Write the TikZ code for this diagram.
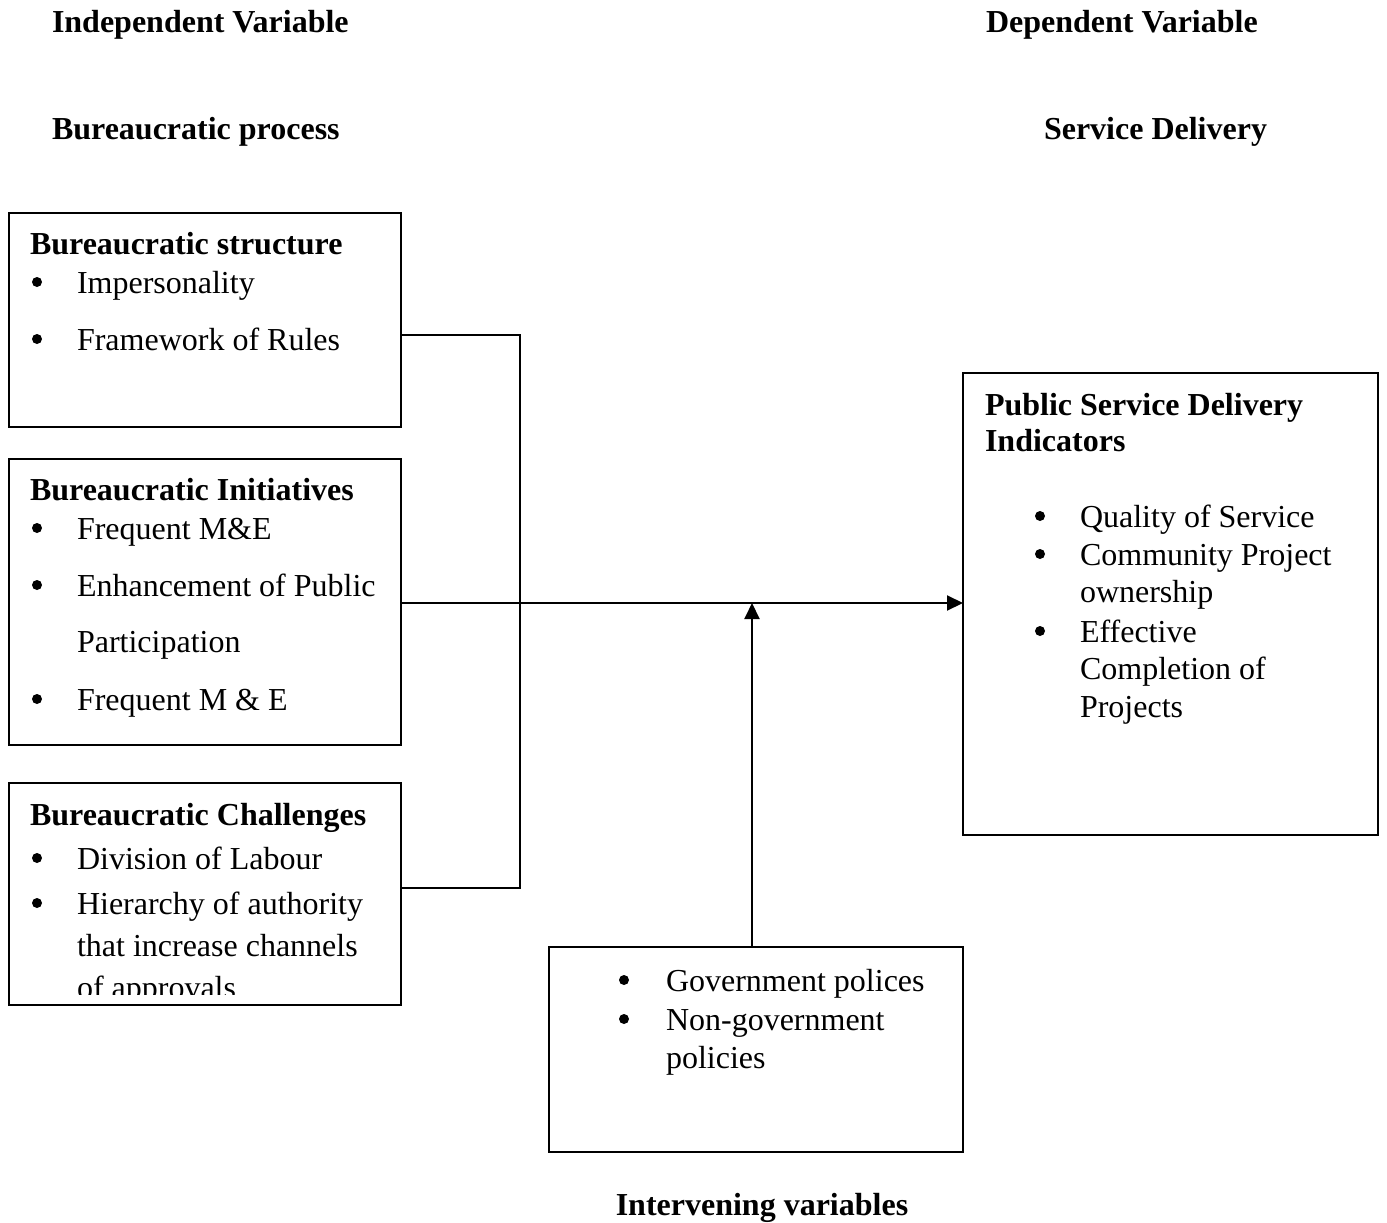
\documentclass[tikz,border=0pt]{standalone}
\usepackage{fontspec}
\setmainfont{Liberation Serif}
\usetikzlibrary{arrows.meta}
\begin{document}
\begin{tikzpicture}[x=1pt,y=-1pt,
  every node/.style={inner sep=0pt, outer sep=0pt},
  txt/.style={anchor=base west, font=\fontsize{32}{37.5}\selectfont},
  hd/.style={anchor=base west, font=\fontsize{32}{37.5}\selectfont\bfseries},
  bul/.style={circle, fill, minimum size=10pt, yshift=11pt},
  box/.style={draw, line width=2pt, rectangle},
  conn/.style={line width=2pt},
  arr/.style={line width=2pt, -{Triangle[length=16pt,width=15pt]}}]
\clip (0,0) rectangle (1387,1223);
\fill[white] (0,0) rectangle (1387,1223);

% headings
\node[hd] (iv) at (52,33) {Independent Variable};
\node[hd] (dv) at (986,33) {Dependent Variable};
\node[hd] (bp) at (52,139) {Bureaucratic process};
\node[hd] (sd) at (1044,139) {Service Delivery};
\node[hd, anchor=base] (intv) at (762,1215) {Intervening variables};

% boxes
\node[box, minimum width=392pt, minimum height=214pt] (b1) at (205,320) {};
\node[box, minimum width=392pt, minimum height=286pt] (b2) at (205,602) {};
\node[box, minimum width=392pt, minimum height=222pt] (b3) at (205,894) {};
\node[box, minimum width=415pt, minimum height=462pt] (b4) at (1170.5,604) {};
\node[box, minimum width=414pt, minimum height=205pt] (b5) at (756,1049.5) {};

% box 1
\node[hd] (t1) at (30,254) {Bureaucratic structure};
\node[bul] (b1a) at (37,293) {};
\node[txt] (t1a) at (77,293) {Impersonality};
\node[bul] (b1b) at (37,350) {};
\node[txt] (t1b) at (77,350) {Framework of Rules};

% box 2
\node[hd] (t2) at (30,500) {Bureaucratic Initiatives};
\node[bul] (b2a) at (37,539) {};
\node[txt] (t2a) at (77,539) {Frequent M\&E};
\node[bul] (b2b) at (37,596) {};
\node[txt] (t2b) at (77,596) {Enhancement of Public};
\node[txt] (t2c) at (77,652) {Participation};
\node[bul] (b2d) at (37,710) {};
\node[txt] (t2d) at (77,710) {Frequent M \& E};

% box 3 (text clipped at bottom)
\begin{scope}
\clip (10,784) rectangle (400,994);
\node[hd] (t3) at (30,825) {Bureaucratic Challenges};
\node[bul] (b3a) at (37,869) {};
\node[txt] (t3a) at (77,869) {Division of Labour};
\node[bul] (b3b) at (37,914) {};
\node[txt] (t3b) at (77,914) {Hierarchy of authority};
\node[txt] (t3c) at (77,956) {that increase channels};
\node[txt] (t3d) at (77,998) {of approvals};
\end{scope}

% box 4
\node[hd] (t4) at (985,415) {Public Service Delivery};
\node[hd] (t4b) at (985,451) {Indicators};
\node[bul] (b4a) at (1040,527) {};
\node[txt] (t4c) at (1080,527) {Quality of Service};
\node[bul] (b4b) at (1040,565) {};
\node[txt] (t4d) at (1080,565) {Community Project};
\node[txt] (t4e) at (1080,602) {ownership};
\node[bul] (b4c) at (1040,642) {};
\node[txt] (t4f) at (1080,642) {Effective};
\node[txt] (t4g) at (1080,679) {Completion of};
\node[txt] (t4h) at (1080,717) {Projects};

% box 5
\node[bul] (b5a) at (624,991) {};
\node[txt] (t5a) at (666,991) {Government polices};
\node[bul] (b5b) at (624,1030) {};
\node[txt] (t5b) at (666,1030) {Non-government};
\node[txt] (t5c) at (666,1068) {policies};

% connectors
\coordinate (j1) at (520,335);
\coordinate (j3) at (520,888);
\coordinate (m) at (752,603);
\draw[conn] (b1.east |- j1) -- (j1) -- (j3) -- (b3.east |- j3);
\draw[arr] (b2.east |- m) -- (b4.west |- m);
\draw[arr] (m |- b5.north) -- (m);
\end{tikzpicture}
\end{document}
